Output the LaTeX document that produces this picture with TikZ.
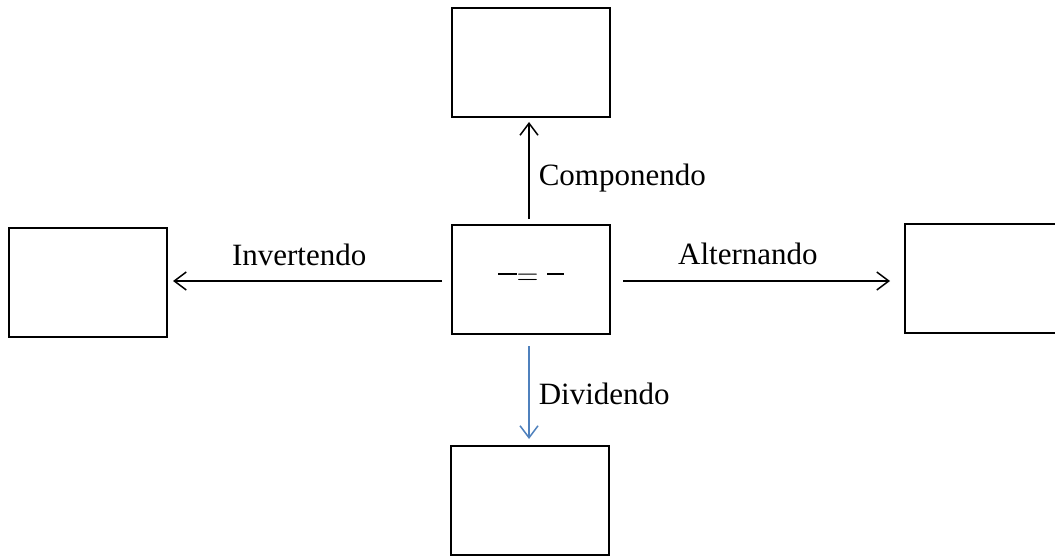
\documentclass[tikz,border=0pt]{standalone}
\usepackage{fontspec}
\setmainfont{Liberation Serif}
\usetikzlibrary{arrows.meta}
\definecolor{arrblue}{RGB}{79,129,189}
\tikzset{
  boxnode/.style={draw, line width=1pt, minimum width=79pt, minimum height=54.5pt, inner sep=0pt},
  arr/.style={line width=0.75pt, -{Straight Barb[length=6pt, width=9pt, line width=0.75pt]}},
  lbl/.style={font=\fontsize{15.5}{18}\selectfont, inner sep=0pt}
}
\begin{document}
\begin{tikzpicture}[x=0.5pt, y=-0.5pt]
\clip (0,0) rectangle (1055,556);
\fill[white] (0,0) rectangle (1055,556);
\node[boxnode, font=\fontsize{15.5}{18}\selectfont] (c) at (531,279.5) {\rule[5.4pt]{9.5pt}{0.9pt}\hspace{0.5pt}\makebox[9.5pt]{\raisebox{0.9pt}{$=$}}\hspace{5pt}\rule[5.4pt]{8.5pt}{0.9pt}};
\node[boxnode] (t) at (530.5,62.5) {};
\node[boxnode] (l) at (88,282) {};
\node[boxnode] (r) at (984,278.5) {};
\node[boxnode] (b) at (530,500.5) {};
% up
\draw[arr] ([xshift=-1pt,yshift=2.5pt]c.north) -- ([xshift=-0.75pt,yshift=-2pt]t.south)
  node[lbl, pos=0.35, anchor=base west, xshift=4.5pt] {Componendo};
% left
\draw[arr] ([xshift=-4.5pt,yshift=-0.75pt]c.west) -- ([xshift=2.5pt,yshift=0.5pt]l.east)
  node[lbl, pos=0.531, anchor=base, yshift=8pt] {Invertendo};
% right
\draw[arr] ([xshift=6pt,yshift=-0.75pt]c.east) -- ([xshift=-7pt,yshift=-1.25pt]r.west)
  node[lbl, pos=0.468, anchor=base, yshift=8.5pt] {Alternando};
% down
\draw[arr, draw=arrblue] ([xshift=-1pt,yshift=-5.5pt]c.south) -- ([xshift=-0.5pt,yshift=3pt]b.north)
  node[lbl, pos=0.63, anchor=base west, xshift=4.5pt, text=black] {Dividendo};
\end{tikzpicture}
\end{document}
